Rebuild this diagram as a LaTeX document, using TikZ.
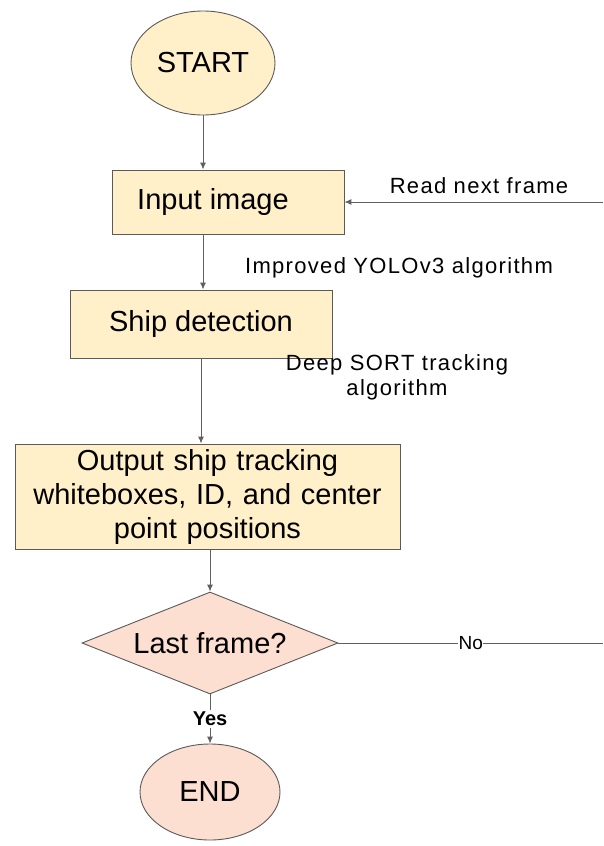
\documentclass[tikz,border=0pt]{standalone}
\usepackage{fontspec}
\setmainfont{Liberation Sans}
\newfontfamily\lblfont[LetterSpace=6]{Liberation Sans}
\usetikzlibrary{arrows.meta,shapes.geometric}
\definecolor{boxy}{HTML}{FFF0C9}
\definecolor{boxp}{HTML}{FCDFD0}
\definecolor{edgec}{HTML}{5A5A5A}
\definecolor{linec}{HTML}{606060}
\begin{document}
\begin{tikzpicture}[x=1pt,y=-1pt,
  boxfont/.style={font=\fontsize{29}{34}\selectfont},
  procbox/.style={draw=edgec, fill=boxy, line width=0.9pt, rectangle, inner sep=0pt, boxfont, align=center},
  termy/.style={draw=edgec, fill=boxy, line width=0.9pt, ellipse, inner sep=0pt, boxfont},
  termp/.style={draw=edgec, fill=boxp, line width=0.9pt, ellipse, inner sep=0pt, boxfont},
  decis/.style={draw=edgec, fill=boxp, line width=0.9pt, diamond, inner sep=0pt},
  lbl/.style={font=\lblfont\fontsize{22}{25}\selectfont, align=center, inner sep=1pt},
  conn/.style={draw=linec, line width=1pt},
  arr/.style={conn, -{Latex[length=7pt,width=6pt]}}
]
\useasboundingbox (0,0) rectangle (603,846);

\node[termy, minimum width=144pt, minimum height=104pt] (start) at (203,63) {START};
\node[procbox, minimum width=232pt, minimum height=64pt,
      label={[boxfont, xshift=-15pt]center:Input image}] (in) at (228,202) {};
\node[procbox, minimum width=262pt, minimum height=68pt] (ship) at (201,324) {Ship detection};
\node[procbox, minimum width=385pt, minimum height=105pt, text width=380pt] (out) at (207.5,496.5)
  {Output ship tracking\\whiteboxes, ID, and center\\point positions};
\node[decis, minimum width=256pt, minimum height=102pt] (dia) at (210,643) {};
\node[boxfont, inner sep=0pt] (diatext) at (dia.center) {Last frame?};
\node[termp, minimum width=140pt, minimum height=96pt] (end) at (210,792) {END};

\coordinate (rdend) at (603,202);
\coordinate (noend) at (603,643);

\node[lbl] (rnf) at (479,186) {Read next frame};
\node[lbl] (yolo) at (399,268) {Improved YOLOv3 algorithm};
\node[lbl] (sort) at (397,377) {Deep SORT tracking\\algorithm};

\draw[arr] (start.south) -- (start.south |- in.north);
\draw[arr] (start.south |- in.south) -- (start.south |- ship.north);
\draw[arr] (ship.south) -- (ship.south |- out.north);
\draw[arr] (dia.north |- out.south) -- (dia.north);
\draw[arr] (dia.south) -- node[font=\fontsize{20}{24}\selectfont\bfseries, fill=white, inner sep=2pt] (yes) {Yes} (end.north);
\draw[conn] (dia.east) -- node[font=\fontsize{19}{22}\selectfont, fill=white, inner sep=0.5pt] (no) {No} (noend);
\draw[arr] (rdend) -- (in.east);
\end{tikzpicture}
\end{document}
